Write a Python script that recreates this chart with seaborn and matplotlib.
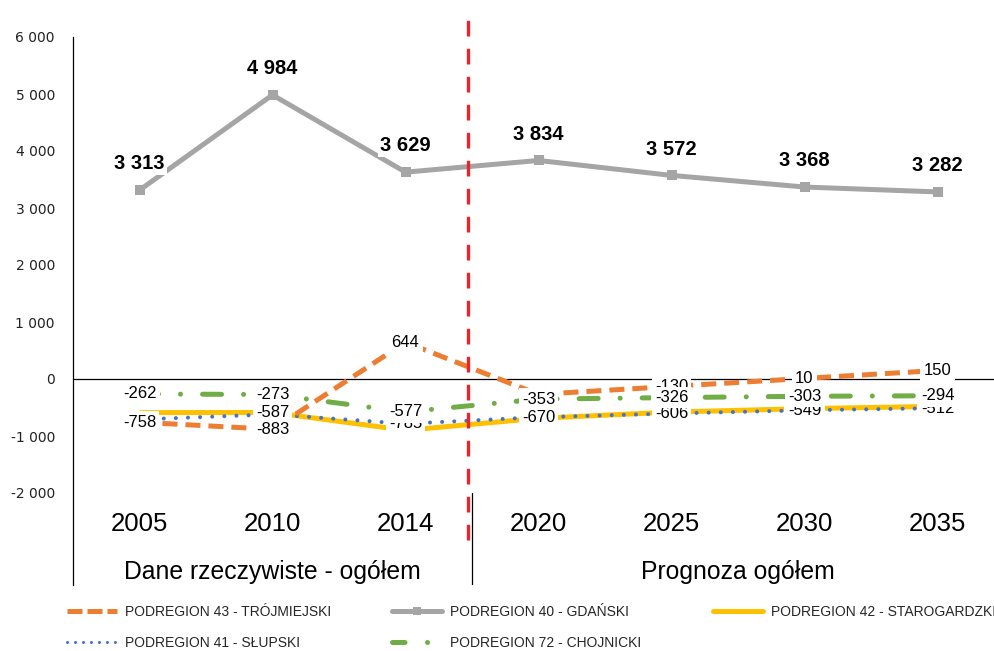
import matplotlib
matplotlib.use("Agg")
import matplotlib.pyplot as plt
import seaborn as sns
import numpy as np
from matplotlib.lines import Line2D

# ---------------- data ----------------
years = ["2005", "2010", "2014", "2020", "2025", "2030", "2035"]
group_labels = ["Dane rzeczywiste - ogółem", "Prognoza ogółem"]
group_members = [[0, 1, 2], [3, 4, 5, 6]]

trojmiejski = [-758, -883, 644, -270, -130, 10, 150]
gdanski = [3313, 4984, 3629, 3834, 3572, 3368, 3282]
starogardzki = [-590, -587, -900, -690, -580, -520, -480]
slupski = [-710, -620, -785, -670, -606, -549, -512]
chojnicki = [-262, -273, -577, -353, -326, -303, -294]

# which data labels are visible in the original
show_troj = [1, 1, 1, 0, 1, 1, 1]
show_star = [0, 1, 0, 0, 0, 0, 0]
show_slup = [0, 0, 1, 1, 1, 1, 1]
show_choj = [1, 1, 1, 1, 1, 1, 1]

names = {
    "troj": "PODREGION 43 - TRÓJMIEJSKI",
    "gdan": "PODREGION 40 - GDAŃSKI",
    "star": "PODREGION 42 - STAROGARDZKI",
    "slup": "PODREGION 41 - SŁUPSKI",
    "choj": "PODREGION 72 - CHOJNICKI",
}

yticks = [-2000, -1000, 0, 1000, 2000, 3000, 4000, 5000, 6000]

# ---------------- style ----------------
C_ORANGE = "#ED7D31"
C_GRAY = "#A5A5A5"
C_YELLOW = "#FFC000"
C_BLUE = "#4472C4"
C_GREEN = "#70AD47"
C_RED = "#EE2229"

sns.set_theme(style="white")
plt.rcParams["font.family"] = ["Liberation Sans", "DejaVu Sans"]

W, H = 994, 651
fig = plt.figure(figsize=(W / 100, H / 100), dpi=100)
ax_left, ax_top, ax_bottom = 73, 37, 585
ax = fig.add_axes([ax_left / W, (H - ax_bottom) / H, (W - ax_left) / W, (ax_bottom - ax_top) / H])

YMAX = 6000
px_per_unit = (379 - ax_top) / 6000.0
YMIN = -(ax_bottom - 379) / px_per_unit
ax.set_ylim(YMIN, YMAX)
XMIN = -0.5
XMAX = XMIN + (W - ax_left) / 133.0
ax.set_xlim(XMIN, XMAX)

x = np.arange(len(years))


def draw(vals, color, lw, z, dashes=None, cap="butt", marker=None, ms=0):
    sns.lineplot(x=x, y=vals, ax=ax, color=color, linewidth=lw, zorder=z,
                 marker=marker, markersize=ms, markeredgewidth=0, legend=False)
    ln = ax.lines[-1]
    if dashes is not None:
        ln.set_dashes(dashes)
    ln.set_dash_capstyle(cap)
    ln.set_solid_capstyle("butt")
    return ln


draw(gdanski, C_GRAY, 3.6, 3, marker="s", ms=7.5)
draw(starogardzki, C_YELLOW, 3.6, 3)
draw(slupski, C_BLUE, 2.9, 4, dashes=(0.01, 3.0), cap="round")
draw(trojmiejski, C_ORANGE, 3.6, 5, dashes=(3.0, 1.6))
draw(chojnicki, C_GREEN, 3.6, 5, dashes=(3.8, 4.4, 0.01, 4.4), cap="round")

ax.axhline(0, color="black", lw=0.9, zorder=2)


def fmt(v):
    return f"{v:,}".replace(",", " ")


box = dict(boxstyle="square,pad=0.2", fc="white", ec="none")


def labels(vals, mask, z):
    for xi, v, m in zip(x, vals, mask):
        if m:
            ax.text(xi, v, fmt(v), ha="center", va="center", fontsize=12,
                    color="black", bbox=box, zorder=z)


labels(starogardzki, show_star, 6)
labels(slupski, show_slup, 6)
labels(trojmiejski, show_troj, 7)
labels(chojnicki, show_choj, 8)

for xi, v in zip(x, gdanski):
    ax.annotate(fmt(v), (xi, v), xytext=(0, 19), textcoords="offset points",
                ha="center", va="center", fontsize=14.5, fontweight="bold",
                color="black", bbox=dict(boxstyle="square,pad=0.1", fc="white", ec="none"),
                zorder=9)

# axes styling
for s in ["top", "right", "bottom"]:
    ax.spines[s].set_visible(False)
ax.spines["left"].set_color("black")
ax.spines["left"].set_linewidth(0.9)
ax.set_xticks([])
ax.set_yticks(yticks)
ax.set_yticklabels([fmt(t) for t in yticks], fontsize=10, color="#222222",
                   family=["DejaVu Sans"])
ax.tick_params(axis="y", length=0, pad=13)
ax.set_xlabel("")
ax.set_ylabel("")

# category labels
for xi, yr in zip(x, years):
    ax.text(xi, -2548, yr, ha="center", va="center", fontsize=18.5, color="black")
for lab, mem in zip(group_labels, group_members):
    ax.text(np.mean(mem), -3392, lab, ha="center", va="center", fontsize=17.8, color="black")

# group divider in label area
span = YMAX - YMIN
ax.axvline(2.5, ymin=0, ymax=(-2000 - YMIN) / span, color="black", lw=0.9, zorder=2)

# red dashed separator
ax.axvline(2.47, ymin=(ax_bottom - 540) / (ax_bottom - ax_top), ymax=(ax_bottom - 15) / (ax_bottom - ax_top),
           color=C_RED, lw=2.4, dashes=(4.7, 3.7), clip_on=False, zorder=10)

# legend
def mk(color, lw, dashes=None, cap="butt", marker=None, ms=0):
    l = Line2D([0], [0], color=color, lw=lw, marker=marker, markersize=ms, markeredgewidth=0)
    if dashes is not None:
        l.set_dashes(dashes)
    l.set_dash_capstyle(cap)
    return l

h_troj = mk(C_ORANGE, 3.6, (3.0, 1.0))
h_gdan = mk(C_GRAY, 3.6, marker="s", ms=6)
h_star = mk(C_YELLOW, 3.6)
h_slup = mk(C_BLUE, 2.2, (0.01, 2.6), cap="round")
h_choj = mk(C_GREEN, 3.6, (2.5, 4.5, 0.01, 4.5), cap="round")

leg_font = dict(family=["Liberation Sans Narrow", "Liberation Sans"], size=10)
cols = [([h_troj, h_slup], [names["troj"], names["slup"]], 67),
        ([h_gdan, h_choj], [names["gdan"], names["choj"]], 392),
        ([h_star], [names["star"]], 713)]
for hs, ls, xpx in cols:
    fig.legend(hs, ls, loc="upper left", bbox_to_anchor=(xpx / W, (H - 605) / H),
               frameon=False, prop=leg_font, handlelength=3.6, handletextpad=0.55,
               borderpad=0, borderaxespad=0, labelspacing=1.2)

fig.savefig("out.png", dpi=100, facecolor="white")
